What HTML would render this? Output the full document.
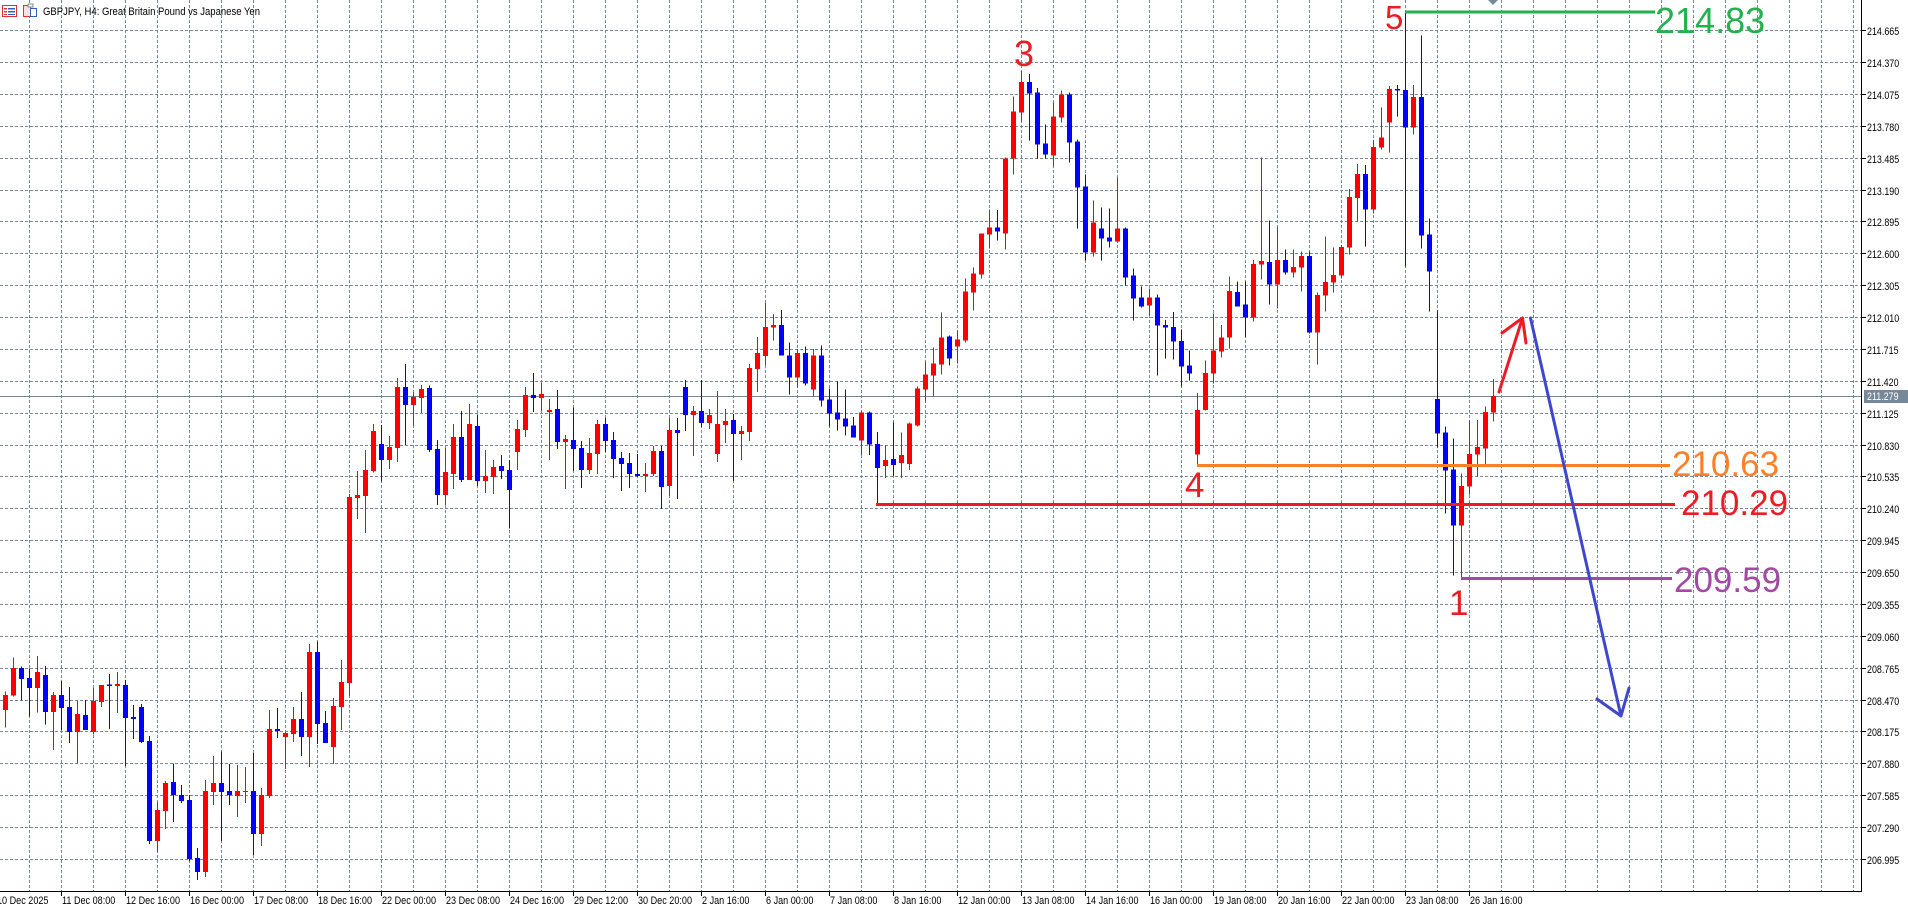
<!DOCTYPE html>
<html><head><meta charset="utf-8">
<style>
html,body{margin:0;padding:0;background:#fff;width:1908px;height:909px;overflow:hidden}
svg{display:block}
.u{fill:#ff0000}.d{fill:#0000ff}
text{font-family:"Liberation Sans",sans-serif}
.ax{font-size:11px;fill:#000}
.big{font-size:35px}
</style></head><body>
<svg width="1908" height="909" viewBox="0 0 1908 909" xmlns="http://www.w3.org/2000/svg">
<rect width="1908" height="909" fill="#fff"/>
<!-- grid -->
<g stroke="#778899" stroke-width="1" stroke-dasharray="3 2" fill="none">
<path d="M29.5 0V891M61.5 0V891M93.5 0V891M125.5 0V891M157.5 0V891M189.5 0V891M221.5 0V891M253.5 0V891M285.5 0V891M317.5 0V891M349.5 0V891M381.5 0V891M413.5 0V891M445.5 0V891M477.5 0V891M509.5 0V891M541.5 0V891M573.5 0V891M605.5 0V891M637.5 0V891M669.5 0V891M701.5 0V891M733.5 0V891M765.5 0V891M797.5 0V891M829.5 0V891M861.5 0V891M893.5 0V891M925.5 0V891M957.5 0V891M989.5 0V891M1021.5 0V891M1053.5 0V891M1085.5 0V891M1117.5 0V891M1149.5 0V891M1181.5 0V891M1213.5 0V891M1245.5 0V891M1277.5 0V891M1309.5 0V891M1341.5 0V891M1373.5 0V891M1405.5 0V891M1437.5 0V891M1469.5 0V891M1501.5 0V891M1533.5 0V891M1565.5 0V891M1597.5 0V891M1629.5 0V891M1661.5 0V891M1693.5 0V891M1725.5 0V891M1757.5 0V891M1789.5 0V891M1821.5 0V891M1853.5 0V891"/>
<path d="M0 30.5H1861M0 62.5H1861M0 94.5H1861M0 126.5H1861M0 158.5H1861M0 190.5H1861M0 221.5H1861M0 253.5H1861M0 285.5H1861M0 317.5H1861M0 349.5H1861M0 381.5H1861M0 413.5H1861M0 445.5H1861M0 476.5H1861M0 508.5H1861M0 540.5H1861M0 572.5H1861M0 604.5H1861M0 636.5H1861M0 668.5H1861M0 700.5H1861M0 731.5H1861M0 763.5H1861M0 795.5H1861M0 827.5H1861M0 859.5H1861"/>
</g>
<!-- current price line -->
<path d="M0 396.5H1861" stroke="#778899" stroke-width="1"/>

<!-- candles group A -->
<g transform="translate(0 380) scale(1 0.333333)" shape-rendering="crispEdges">
<rect class="u" x="5" y="935" width="1" height="108"/><rect class="u" x="3" y="945" width="5" height="45"/>
<rect class="u" x="13" y="833" width="1" height="117"/><rect class="u" x="11" y="864" width="5" height="83"/>
<rect class="d" x="21" y="860" width="1" height="102"/><rect class="d" x="19" y="864" width="5" height="33"/>
<rect class="d" x="29" y="866" width="1" height="144"/><rect class="d" x="27" y="894" width="5" height="30"/>
<rect class="u" x="37" y="828" width="1" height="170"/><rect class="u" x="35" y="876" width="5" height="48"/>
<rect class="d" x="45" y="858" width="1" height="176"/><rect class="d" x="43" y="885" width="5" height="111"/>
<rect class="u" x="53" y="936" width="1" height="174"/><rect class="u" x="51" y="945" width="5" height="51"/>
<rect class="d" x="61" y="903" width="1" height="147"/><rect class="d" x="59" y="945" width="5" height="39"/>
<rect class="d" x="69" y="921" width="1" height="168"/><rect class="d" x="67" y="981" width="5" height="75"/>
<rect class="u" x="77" y="962" width="1" height="189"/><rect class="u" x="75" y="1002" width="5" height="54"/>
<rect class="d" x="85" y="960" width="1" height="90"/><rect class="d" x="83" y="1005" width="5" height="45"/>
<rect class="u" x="93" y="924" width="1" height="140"/><rect class="u" x="91" y="963" width="5" height="93"/>
<rect class="u" x="101" y="915" width="1" height="66"/><rect class="u" x="99" y="915" width="5" height="51"/>
<rect class="d" x="109" y="882" width="1" height="165"/><rect class="d" x="107" y="914" width="5" height="4"/>
<rect class="u" x="117" y="876" width="1" height="123"/><rect class="u" x="115" y="912" width="5" height="6"/>
<rect class="d" x="125" y="900" width="1" height="258"/><rect class="d" x="123" y="915" width="5" height="99"/>
<rect class="d" x="133" y="975" width="1" height="102"/><rect class="d" x="131" y="1011" width="5" height="6"/>
<rect class="d" x="141" y="972" width="1" height="117"/><rect class="d" x="139" y="981" width="5" height="105"/>
<rect class="d" x="149" y="1068" width="1" height="324"/><rect class="d" x="147" y="1083" width="5" height="300"/>
<rect class="u" x="157" y="1266" width="1" height="150"/><rect class="u" x="155" y="1290" width="5" height="93"/>
<rect class="u" x="165" y="1203" width="1" height="144"/><rect class="u" x="163" y="1209" width="5" height="84"/>
<rect class="d" x="173" y="1151" width="1" height="175"/><rect class="d" x="171" y="1206" width="5" height="39"/>
<rect class="d" x="181" y="1215" width="1" height="54"/><rect class="d" x="179" y="1245" width="5" height="18"/>
<rect class="d" x="189" y="1245" width="1" height="198"/><rect class="d" x="187" y="1260" width="5" height="177"/>
<rect class="d" x="197" y="1404" width="1" height="96"/><rect class="d" x="195" y="1434" width="5" height="42"/>
<rect class="u" x="205" y="1200" width="1" height="291"/><rect class="u" x="203" y="1233" width="5" height="243"/>
<rect class="u" x="213" y="1128" width="1" height="147"/><rect class="u" x="211" y="1209" width="5" height="27"/>
<rect class="d" x="221" y="1115" width="1" height="268"/><rect class="d" x="219" y="1209" width="5" height="27"/>
<rect class="d" x="229" y="1152" width="1" height="123"/><rect class="d" x="227" y="1233" width="5" height="12"/>
<rect class="u" x="237" y="1155" width="1" height="156"/><rect class="u" x="235" y="1233" width="5" height="15"/>
<rect class="u" x="245" y="1161" width="1" height="108"/><rect class="u" x="243" y="1233" width="5" height="3"/>
<rect class="d" x="253" y="1119" width="1" height="306"/><rect class="d" x="251" y="1233" width="5" height="129"/>
<rect class="u" x="261" y="1224" width="1" height="174"/><rect class="u" x="259" y="1245" width="5" height="117"/>
<rect class="u" x="269" y="990" width="1" height="264"/><rect class="u" x="267" y="1047" width="5" height="201"/>
<rect class="d" x="277" y="984" width="1" height="90"/><rect class="d" x="275" y="1047" width="5" height="6"/>
<rect class="u" x="285" y="1056" width="1" height="111"/><rect class="u" x="283" y="1059" width="5" height="12"/>
<rect class="u" x="293" y="981" width="1" height="105"/><rect class="u" x="291" y="1017" width="5" height="45"/>
<rect class="d" x="301" y="936" width="1" height="192"/><rect class="d" x="299" y="1017" width="5" height="54"/>
<rect class="u" x="309" y="792" width="1" height="369"/><rect class="u" x="307" y="816" width="5" height="255"/>
<rect class="d" x="317" y="785" width="1" height="307"/><rect class="d" x="315" y="816" width="5" height="216"/>
<rect class="d" x="325" y="993" width="1" height="96"/><rect class="d" x="323" y="1029" width="5" height="60"/>
<rect class="u" x="333" y="954" width="1" height="198"/><rect class="u" x="331" y="978" width="5" height="123"/>
<rect class="u" x="341" y="840" width="1" height="210"/><rect class="u" x="339" y="906" width="5" height="75"/>
<rect class="u" x="349" y="342" width="1" height="606"/><rect class="u" x="347" y="351" width="5" height="558"/>
<rect class="u" x="357" y="273" width="1" height="144"/><rect class="u" x="355" y="345" width="5" height="9"/>
<rect class="u" x="365" y="210" width="1" height="249"/><rect class="u" x="363" y="270" width="5" height="78"/>
</g>
<!-- candles group B -->
<g transform="translate(0 280) scale(1 0.333333)" shape-rendering="crispEdges">
<rect class="u" x="373" y="432" width="1" height="146"/><rect class="u" x="371" y="453" width="5" height="120"/>
<rect class="d" x="381" y="435" width="1" height="169"/><rect class="d" x="379" y="492" width="5" height="48"/>
<rect class="u" x="389" y="468" width="1" height="99"/><rect class="u" x="387" y="501" width="5" height="39"/>
<rect class="u" x="397" y="294" width="1" height="252"/><rect class="u" x="395" y="321" width="5" height="183"/>
<rect class="d" x="405" y="252" width="1" height="243"/><rect class="d" x="403" y="321" width="5" height="54"/>
<rect class="u" x="413" y="336" width="1" height="102"/><rect class="u" x="411" y="351" width="5" height="24"/>
<rect class="u" x="421" y="315" width="1" height="84"/><rect class="u" x="419" y="327" width="5" height="27"/>
<rect class="d" x="429" y="316" width="1" height="200"/><rect class="d" x="427" y="324" width="5" height="186"/>
<rect class="d" x="437" y="480" width="1" height="195"/><rect class="d" x="435" y="507" width="5" height="138"/>
<rect class="u" x="445" y="504" width="1" height="171"/><rect class="u" x="443" y="576" width="5" height="69"/>
<rect class="u" x="453" y="432" width="1" height="195"/><rect class="u" x="451" y="471" width="5" height="111"/>
<rect class="d" x="461" y="393" width="1" height="213"/><rect class="d" x="459" y="471" width="5" height="129"/>
<rect class="u" x="469" y="372" width="1" height="228"/><rect class="u" x="467" y="432" width="5" height="168"/>
<rect class="d" x="477" y="404" width="1" height="214"/><rect class="d" x="475" y="438" width="5" height="165"/>
<rect class="u" x="485" y="510" width="1" height="129"/><rect class="u" x="483" y="588" width="5" height="15"/>
<rect class="u" x="493" y="540" width="1" height="102"/><rect class="u" x="491" y="561" width="5" height="30"/>
<rect class="d" x="501" y="525" width="1" height="72"/><rect class="d" x="499" y="558" width="5" height="15"/>
<rect class="d" x="509" y="540" width="1" height="205"/><rect class="d" x="507" y="570" width="5" height="60"/>
<rect class="u" x="517" y="420" width="1" height="150"/><rect class="u" x="515" y="447" width="5" height="69"/>
<rect class="u" x="525" y="321" width="1" height="150"/><rect class="u" x="523" y="345" width="5" height="105"/>
<rect class="d" x="533" y="279" width="1" height="117"/><rect class="d" x="531" y="345" width="5" height="9"/>
<rect class="u" x="541" y="309" width="1" height="84"/><rect class="u" x="539" y="342" width="5" height="12"/>
<rect class="u" x="549" y="357" width="1" height="183"/><rect class="u" x="547" y="390" width="5" height="6"/>
<rect class="d" x="557" y="330" width="1" height="177"/><rect class="d" x="555" y="387" width="5" height="99"/>
<rect class="u" x="565" y="465" width="1" height="162"/><rect class="u" x="563" y="477" width="5" height="9"/>
<rect class="d" x="573" y="382" width="1" height="191"/><rect class="d" x="571" y="480" width="5" height="27"/>
<rect class="d" x="581" y="483" width="1" height="141"/><rect class="d" x="579" y="504" width="5" height="66"/>
<rect class="u" x="589" y="474" width="1" height="108"/><rect class="u" x="587" y="519" width="5" height="51"/>
<rect class="u" x="597" y="420" width="1" height="162"/><rect class="u" x="595" y="432" width="5" height="90"/>
<rect class="d" x="605" y="414" width="1" height="102"/><rect class="d" x="603" y="432" width="5" height="51"/>
<rect class="d" x="613" y="456" width="1" height="138"/><rect class="d" x="611" y="480" width="5" height="57"/>
<rect class="d" x="621" y="516" width="1" height="117"/><rect class="d" x="619" y="534" width="5" height="18"/>
<rect class="d" x="629" y="519" width="1" height="105"/><rect class="d" x="627" y="549" width="5" height="33"/>
<rect class="d" x="637" y="522" width="1" height="69"/><rect class="d" x="635" y="582" width="5" height="6"/>
<rect class="u" x="645" y="549" width="1" height="87"/><rect class="u" x="643" y="582" width="5" height="6"/>
<rect class="u" x="653" y="498" width="1" height="90"/><rect class="u" x="651" y="513" width="5" height="69"/>
<rect class="d" x="661" y="498" width="1" height="189"/><rect class="d" x="659" y="513" width="5" height="108"/>
<rect class="u" x="669" y="414" width="1" height="234"/><rect class="u" x="667" y="450" width="5" height="168"/>
<rect class="d" x="677" y="414" width="1" height="243"/><rect class="d" x="675" y="450" width="5" height="9"/>
<rect class="d" x="685" y="300" width="1" height="153"/><rect class="d" x="683" y="321" width="5" height="84"/>
<rect class="u" x="693" y="378" width="1" height="150"/><rect class="u" x="691" y="393" width="5" height="12"/>
<rect class="d" x="701" y="300" width="1" height="141"/><rect class="d" x="699" y="393" width="5" height="36"/>
<rect class="u" x="709" y="387" width="1" height="60"/><rect class="u" x="707" y="405" width="5" height="24"/>
<rect class="u" x="717" y="333" width="1" height="213"/><rect class="u" x="715" y="432" width="5" height="90"/>
<rect class="u" x="725" y="387" width="1" height="102"/><rect class="u" x="723" y="423" width="5" height="12"/>
<rect class="d" x="733" y="402" width="1" height="201"/><rect class="d" x="731" y="420" width="5" height="42"/>
<rect class="u" x="741" y="438" width="1" height="102"/><rect class="u" x="739" y="453" width="5" height="9"/>
<rect class="u" x="749" y="252" width="1" height="231"/><rect class="u" x="747" y="264" width="5" height="192"/>
<rect class="u" x="757" y="171" width="1" height="165"/><rect class="u" x="755" y="219" width="5" height="48"/>
<rect class="u" x="765" y="69" width="1" height="186"/><rect class="u" x="763" y="141" width="5" height="87"/>
</g>
<!-- candles group C -->
<g transform="translate(0 50) scale(1 0.333333)" shape-rendering="crispEdges">
<rect class="u" x="773" y="792" width="1" height="80"/><rect class="u" x="771" y="825" width="5" height="8"/>
<rect class="d" x="781" y="780" width="1" height="137"/><rect class="d" x="779" y="825" width="5" height="92"/>
<rect class="d" x="789" y="878" width="1" height="156"/><rect class="d" x="787" y="917" width="5" height="66"/>
<rect class="u" x="797" y="897" width="1" height="116"/><rect class="u" x="795" y="909" width="5" height="74"/>
<rect class="d" x="805" y="890" width="1" height="117"/><rect class="d" x="803" y="909" width="5" height="92"/>
<rect class="u" x="813" y="897" width="1" height="143"/><rect class="u" x="811" y="917" width="5" height="102"/>
<rect class="d" x="821" y="887" width="1" height="183"/><rect class="d" x="819" y="917" width="5" height="135"/>
<rect class="d" x="829" y="1016" width="1" height="114"/><rect class="d" x="827" y="1049" width="5" height="42"/>
<rect class="d" x="837" y="995" width="1" height="147"/><rect class="d" x="835" y="1088" width="5" height="21"/>
<rect class="d" x="845" y="1019" width="1" height="138"/><rect class="d" x="843" y="1106" width="5" height="24"/>
<rect class="d" x="853" y="1101" width="1" height="62"/><rect class="d" x="851" y="1127" width="5" height="36"/>
<rect class="u" x="861" y="1083" width="1" height="132"/><rect class="u" x="859" y="1088" width="5" height="84"/>
<rect class="d" x="869" y="1085" width="1" height="130"/><rect class="d" x="867" y="1088" width="5" height="96"/>
<rect class="d" x="877" y="1146" width="1" height="214"/><rect class="d" x="875" y="1182" width="5" height="72"/>
<rect class="u" x="885" y="1187" width="1" height="97"/><rect class="u" x="883" y="1230" width="5" height="18"/>
<rect class="d" x="893" y="1118" width="1" height="160"/><rect class="d" x="891" y="1227" width="5" height="18"/>
<rect class="u" x="901" y="1148" width="1" height="136"/><rect class="u" x="899" y="1215" width="5" height="24"/>
<rect class="u" x="909" y="1118" width="1" height="142"/><rect class="u" x="907" y="1121" width="5" height="121"/>
<rect class="u" x="917" y="1010" width="1" height="120"/><rect class="u" x="915" y="1016" width="5" height="111"/>
<rect class="u" x="925" y="935" width="1" height="120"/><rect class="u" x="923" y="974" width="5" height="45"/>
<rect class="u" x="933" y="893" width="1" height="147"/><rect class="u" x="931" y="941" width="5" height="36"/>
<rect class="u" x="941" y="788" width="1" height="186"/><rect class="u" x="939" y="863" width="5" height="81"/>
<rect class="d" x="949" y="857" width="1" height="90"/><rect class="d" x="947" y="860" width="5" height="66"/>
<rect class="u" x="957" y="842" width="1" height="99"/><rect class="u" x="955" y="869" width="5" height="21"/>
<rect class="u" x="965" y="686" width="1" height="192"/><rect class="u" x="963" y="725" width="5" height="147"/>
<rect class="u" x="973" y="653" width="1" height="129"/><rect class="u" x="971" y="671" width="5" height="57"/>
<rect class="u" x="981" y="551" width="1" height="135"/><rect class="u" x="979" y="551" width="5" height="123"/>
<rect class="u" x="989" y="478" width="1" height="118"/><rect class="u" x="987" y="533" width="5" height="21"/>
<rect class="d" x="997" y="480" width="1" height="92"/><rect class="d" x="995" y="533" width="5" height="12"/>
<rect class="u" x="1005" y="323" width="1" height="276"/><rect class="u" x="1003" y="326" width="5" height="225"/>
<rect class="u" x="1013" y="140" width="1" height="234"/><rect class="u" x="1011" y="185" width="5" height="141"/>
<rect class="u" x="1021" y="63" width="1" height="152"/><rect class="u" x="1019" y="96" width="5" height="92"/>
<rect class="d" x="1029" y="72" width="1" height="200"/><rect class="d" x="1027" y="96" width="5" height="35"/>
<rect class="d" x="1037" y="114" width="1" height="212"/><rect class="d" x="1035" y="128" width="5" height="156"/>
<rect class="d" x="1045" y="224" width="1" height="102"/><rect class="d" x="1043" y="281" width="5" height="33"/>
<rect class="u" x="1053" y="158" width="1" height="192"/><rect class="u" x="1051" y="200" width="5" height="117"/>
<rect class="u" x="1061" y="122" width="1" height="96"/><rect class="u" x="1059" y="134" width="5" height="69"/>
<rect class="d" x="1069" y="128" width="1" height="210"/><rect class="d" x="1067" y="134" width="5" height="144"/>
<rect class="d" x="1077" y="269" width="1" height="267"/><rect class="d" x="1075" y="275" width="5" height="138"/>
<rect class="d" x="1085" y="374" width="1" height="258"/><rect class="d" x="1083" y="410" width="5" height="198"/>
<rect class="u" x="1093" y="452" width="1" height="168"/><rect class="u" x="1091" y="518" width="5" height="90"/>
<rect class="d" x="1101" y="473" width="1" height="159"/><rect class="d" x="1099" y="536" width="5" height="30"/>
<rect class="d" x="1109" y="476" width="1" height="117"/><rect class="d" x="1107" y="563" width="5" height="12"/>
<rect class="u" x="1117" y="383" width="1" height="195"/><rect class="u" x="1115" y="536" width="5" height="39"/>
<rect class="d" x="1125" y="533" width="1" height="174"/><rect class="d" x="1123" y="536" width="5" height="147"/>
<rect class="d" x="1133" y="656" width="1" height="156"/><rect class="d" x="1131" y="677" width="5" height="69"/>
<rect class="d" x="1141" y="710" width="1" height="63"/><rect class="d" x="1139" y="743" width="5" height="27"/>
<rect class="u" x="1149" y="716" width="1" height="81"/><rect class="u" x="1147" y="743" width="5" height="24"/>
<rect class="d" x="1157" y="734" width="1" height="243"/><rect class="d" x="1155" y="743" width="5" height="84"/>
</g>
<!-- candles group D -->
<g transform="scale(1 0.333333)" shape-rendering="crispEdges">
<rect class="d" x="1165" y="960" width="1" height="116"/><rect class="d" x="1163" y="975" width="5" height="8"/>
<rect class="d" x="1173" y="936" width="1" height="143"/><rect class="d" x="1171" y="981" width="5" height="44"/>
<rect class="d" x="1181" y="989" width="1" height="171"/><rect class="d" x="1179" y="1023" width="5" height="77"/>
<rect class="d" x="1189" y="1052" width="1" height="90"/><rect class="d" x="1187" y="1097" width="5" height="24"/>
<rect class="u" x="1197" y="1179" width="1" height="215"/><rect class="u" x="1195" y="1230" width="5" height="134"/>
<rect class="u" x="1205" y="1082" width="1" height="150"/><rect class="u" x="1203" y="1119" width="5" height="111"/>
<rect class="u" x="1213" y="940" width="1" height="211"/><rect class="u" x="1211" y="1052" width="5" height="69"/>
<rect class="u" x="1221" y="975" width="1" height="98"/><rect class="u" x="1219" y="1013" width="5" height="42"/>
<rect class="u" x="1229" y="830" width="1" height="215"/><rect class="u" x="1227" y="873" width="5" height="140"/>
<rect class="d" x="1237" y="845" width="1" height="75"/><rect class="d" x="1235" y="876" width="5" height="44"/>
<rect class="d" x="1245" y="845" width="1" height="166"/><rect class="d" x="1243" y="914" width="5" height="39"/>
<rect class="u" x="1253" y="780" width="1" height="185"/><rect class="u" x="1251" y="792" width="5" height="161"/>
<rect class="u" x="1261" y="473" width="1" height="366"/><rect class="u" x="1259" y="783" width="5" height="11"/>
<rect class="d" x="1269" y="662" width="1" height="252"/><rect class="d" x="1267" y="786" width="5" height="68"/>
<rect class="u" x="1277" y="681" width="1" height="245"/><rect class="u" x="1275" y="780" width="5" height="74"/>
<rect class="d" x="1285" y="749" width="1" height="75"/><rect class="d" x="1283" y="780" width="5" height="38"/>
<rect class="u" x="1293" y="749" width="1" height="84"/><rect class="u" x="1291" y="801" width="5" height="17"/>
<rect class="u" x="1301" y="755" width="1" height="120"/><rect class="u" x="1299" y="768" width="5" height="35"/>
<rect class="d" x="1309" y="755" width="1" height="246"/><rect class="d" x="1307" y="768" width="5" height="230"/>
<rect class="u" x="1317" y="878" width="1" height="216"/><rect class="u" x="1315" y="885" width="5" height="113"/>
<rect class="u" x="1325" y="710" width="1" height="225"/><rect class="u" x="1323" y="846" width="5" height="41"/>
<rect class="u" x="1333" y="743" width="1" height="135"/><rect class="u" x="1331" y="825" width="5" height="23"/>
<rect class="u" x="1341" y="735" width="1" height="101"/><rect class="u" x="1339" y="741" width="5" height="86"/>
<rect class="u" x="1349" y="567" width="1" height="197"/><rect class="u" x="1347" y="591" width="5" height="152"/>
<rect class="u" x="1357" y="492" width="1" height="173"/><rect class="u" x="1355" y="522" width="5" height="72"/>
<rect class="d" x="1365" y="495" width="1" height="245"/><rect class="d" x="1363" y="522" width="5" height="107"/>
<rect class="u" x="1373" y="420" width="1" height="221"/><rect class="u" x="1371" y="441" width="5" height="188"/>
<rect class="u" x="1381" y="323" width="1" height="126"/><rect class="u" x="1379" y="413" width="5" height="30"/>
<rect class="u" x="1389" y="258" width="1" height="200"/><rect class="u" x="1387" y="267" width="5" height="101"/>
<rect class="d" x="1397" y="255" width="1" height="95"/><rect class="d" x="1395" y="267" width="5" height="5"/>
<rect class="d" x="1405" y="37" width="1" height="763"/><rect class="d" x="1403" y="270" width="5" height="113"/>
<rect class="u" x="1413" y="255" width="1" height="149"/><rect class="u" x="1411" y="291" width="5" height="92"/>
<rect class="d" x="1421" y="107" width="1" height="639"/><rect class="d" x="1419" y="291" width="5" height="416"/>
<rect class="d" x="1429" y="656" width="1" height="279"/><rect class="d" x="1427" y="704" width="5" height="111"/>
</g>
<!-- candles group E -->
<g transform="translate(0 370) scale(1 0.333333)" shape-rendering="crispEdges">
<rect class="d" x="1437" y="-178" width="1" height="410"/><rect class="d" x="1435" y="87" width="5" height="103"/>
<rect class="d" x="1445" y="170" width="1" height="260"/><rect class="d" x="1443" y="188" width="5" height="114"/>
<rect class="d" x="1453" y="205" width="1" height="412"/><rect class="d" x="1451" y="299" width="5" height="168"/>
<rect class="u" x="1461" y="310" width="1" height="315"/><rect class="u" x="1459" y="348" width="5" height="119"/>
<rect class="u" x="1469" y="152" width="1" height="222"/><rect class="u" x="1467" y="252" width="5" height="98"/>
<rect class="u" x="1477" y="150" width="1" height="170"/><rect class="u" x="1475" y="231" width="5" height="23"/>
<rect class="u" x="1485" y="110" width="1" height="174"/><rect class="u" x="1483" y="126" width="5" height="110"/>
<rect class="u" x="1493" y="27" width="1" height="128"/><rect class="u" x="1491" y="78" width="5" height="50"/>
</g>

<!-- annotation lines -->
<path d="M1405 12H1655" stroke="#22b14c" stroke-width="3"/>
<path d="M1197 465.5H1670" stroke="#ff7f27" stroke-width="3"/>
<path d="M876 504.5H1675" stroke="#ed1c24" stroke-width="3"/>
<path d="M1461 578.5H1672" stroke="#a349a4" stroke-width="3"/>
<!-- arrows -->
<g fill="none" stroke-width="3" stroke-linecap="round" stroke-linejoin="round">
<path d="M1499 392L1522.5 318M1502 333L1522.5 318L1526 343" stroke="#ed1c24"/>
<path d="M1530.5 318L1621 716M1597 699L1621 716L1629 688" stroke="#3f48cc"/>
</g>
<!-- shift marker -->
<path d="M1488 0H1498L1493 5Z" fill="#778899"/>

<!-- annotation labels -->
<g class="big">
<text x="1655" y="33" fill="#22b14c" font-size="36">214.83</text>
<text x="1672" y="476" fill="#ff7f27">210.63</text>
<text x="1681" y="515" fill="#ed1c24">210.29</text>
<text x="1674" y="592" fill="#a349a4">209.59</text>
<text x="1385" y="29" fill="#ed1c24" font-size="33">5</text>
<text x="1014" y="66" fill="#ed1c24" font-size="36">3</text>
<text x="1185" y="497" fill="#ed1c24">4</text>
<text x="1449" y="615" fill="#ed1c24">1</text>
</g>

<!-- axes -->
<rect x="1861" y="0" width="1" height="892" fill="#000"/>
<rect x="0" y="891" width="1862" height="1" fill="#000"/>
<path stroke="#000" stroke-width="1" d="M1862 30.5h4M1862 62.5h4M1862 94.5h4M1862 126.5h4M1862 158.5h4M1862 190.5h4M1862 221.5h4M1862 253.5h4M1862 285.5h4M1862 317.5h4M1862 349.5h4M1862 381.5h4M1862 413.5h4M1862 445.5h4M1862 476.5h4M1862 508.5h4M1862 540.5h4M1862 572.5h4M1862 604.5h4M1862 636.5h4M1862 668.5h4M1862 700.5h4M1862 731.5h4M1862 763.5h4M1862 795.5h4M1862 827.5h4M1862 859.5h4"/>
<path stroke="#000" stroke-width="1" d="M61.5 892v4M125.5 892v4M189.5 892v4M253.5 892v4M317.5 892v4M381.5 892v4M445.5 892v4M509.5 892v4M573.5 892v4M637.5 892v4M701.5 892v4M765.5 892v4M829.5 892v4M893.5 892v4M957.5 892v4M1021.5 892v4M1085.5 892v4M1149.5 892v4M1213.5 892v4M1277.5 892v4M1341.5 892v4M1405.5 892v4M1469.5 892v4"/>

<!-- price labels -->
<g class="ax">
<text transform="translate(1867 35) scale(.81 1)">214.665</text>
<text transform="translate(1867 67) scale(.81 1)">214.370</text>
<text transform="translate(1867 99) scale(.81 1)">214.075</text>
<text transform="translate(1867 131) scale(.81 1)">213.780</text>
<text transform="translate(1867 163) scale(.81 1)">213.485</text>
<text transform="translate(1867 195) scale(.81 1)">213.190</text>
<text transform="translate(1867 226) scale(.81 1)">212.895</text>
<text transform="translate(1867 258) scale(.81 1)">212.600</text>
<text transform="translate(1867 290) scale(.81 1)">212.305</text>
<text transform="translate(1867 322) scale(.81 1)">212.010</text>
<text transform="translate(1867 354) scale(.81 1)">211.715</text>
<text transform="translate(1867 386) scale(.81 1)">211.420</text>
<text transform="translate(1867 418) scale(.81 1)">211.125</text>
<text transform="translate(1867 450) scale(.81 1)">210.830</text>
<text transform="translate(1867 481) scale(.81 1)">210.535</text>
<text transform="translate(1867 513) scale(.81 1)">210.240</text>
<text transform="translate(1867 545) scale(.81 1)">209.945</text>
<text transform="translate(1867 577) scale(.81 1)">209.650</text>
<text transform="translate(1867 609) scale(.81 1)">209.355</text>
<text transform="translate(1867 641) scale(.81 1)">209.060</text>
<text transform="translate(1867 673) scale(.81 1)">208.765</text>
<text transform="translate(1867 705) scale(.81 1)">208.470</text>
<text transform="translate(1867 736) scale(.81 1)">208.175</text>
<text transform="translate(1867 768) scale(.81 1)">207.880</text>
<text transform="translate(1867 800) scale(.81 1)">207.585</text>
<text transform="translate(1867 832) scale(.81 1)">207.290</text>
<text transform="translate(1867 864) scale(.81 1)">206.995</text>
</g>
<!-- current price box -->
<rect x="1864" y="390" width="44" height="13" fill="#778899"/>
<text class="ax" transform="translate(1867 400) scale(.81 1)" style="fill:#fff">211.279</text>

<!-- date labels -->
<g class="ax">
<text transform="translate(-3 904) scale(.826 1)">10 Dec 2025</text>
<text transform="translate(62 904) scale(.826 1)">11 Dec 08:00</text>
<text transform="translate(126 904) scale(.826 1)">12 Dec 16:00</text>
<text transform="translate(190 904) scale(.826 1)">16 Dec 00:00</text>
<text transform="translate(254 904) scale(.826 1)">17 Dec 08:00</text>
<text transform="translate(318 904) scale(.826 1)">18 Dec 16:00</text>
<text transform="translate(382 904) scale(.826 1)">22 Dec 00:00</text>
<text transform="translate(446 904) scale(.826 1)">23 Dec 08:00</text>
<text transform="translate(510 904) scale(.826 1)">24 Dec 16:00</text>
<text transform="translate(574 904) scale(.826 1)">29 Dec 12:00</text>
<text transform="translate(638 904) scale(.826 1)">30 Dec 20:00</text>
<text transform="translate(702 904) scale(.826 1)">2 Jan 16:00</text>
<text transform="translate(766 904) scale(.826 1)">6 Jan 00:00</text>
<text transform="translate(830 904) scale(.826 1)">7 Jan 08:00</text>
<text transform="translate(894 904) scale(.826 1)">8 Jan 16:00</text>
<text transform="translate(958 904) scale(.826 1)">12 Jan 00:00</text>
<text transform="translate(1022 904) scale(.826 1)">13 Jan 08:00</text>
<text transform="translate(1086 904) scale(.826 1)">14 Jan 16:00</text>
<text transform="translate(1150 904) scale(.826 1)">16 Jan 00:00</text>
<text transform="translate(1214 904) scale(.826 1)">19 Jan 08:00</text>
<text transform="translate(1278 904) scale(.826 1)">20 Jan 16:00</text>
<text transform="translate(1342 904) scale(.826 1)">22 Jan 00:00</text>
<text transform="translate(1406 904) scale(.826 1)">23 Jan 08:00</text>
<text transform="translate(1470 904) scale(.826 1)">26 Jan 16:00</text>
</g>

<!-- title icons -->
<g shape-rendering="crispEdges">
<rect x="2.5" y="5.5" width="14" height="11" fill="#fff" stroke="#e03030"/>
<rect x="4" y="8" width="3" height="1.5" fill="#e03030"/>
<rect x="4" y="11" width="3" height="1.5" fill="#e03030"/>
<rect x="4" y="14" width="3" height="1" fill="#e03030"/>
<rect x="8" y="8" width="7" height="1.5" fill="#3060c0"/>
<rect x="8" y="11" width="7" height="1.5" fill="#3060c0"/>
<rect x="8" y="14" width="7" height="1" fill="#3060c0"/>
<rect x="23.5" y="5.5" width="7" height="11" fill="#fbe0e0" stroke="#e03030"/>
<rect x="28" y="4" width="5" height="3" fill="#fff" stroke="#888" stroke-width="1"/>
<rect x="30.5" y="8.5" width="6" height="8" fill="#fff" stroke="#3060c0"/>
</g>
<text x="43" y="15" font-size="11" textLength="217" lengthAdjust="spacingAndGlyphs" fill="#000">GBPJPY, H4:  Great Britain Pound vs Japanese Yen</text>
</svg>
</body></html>
